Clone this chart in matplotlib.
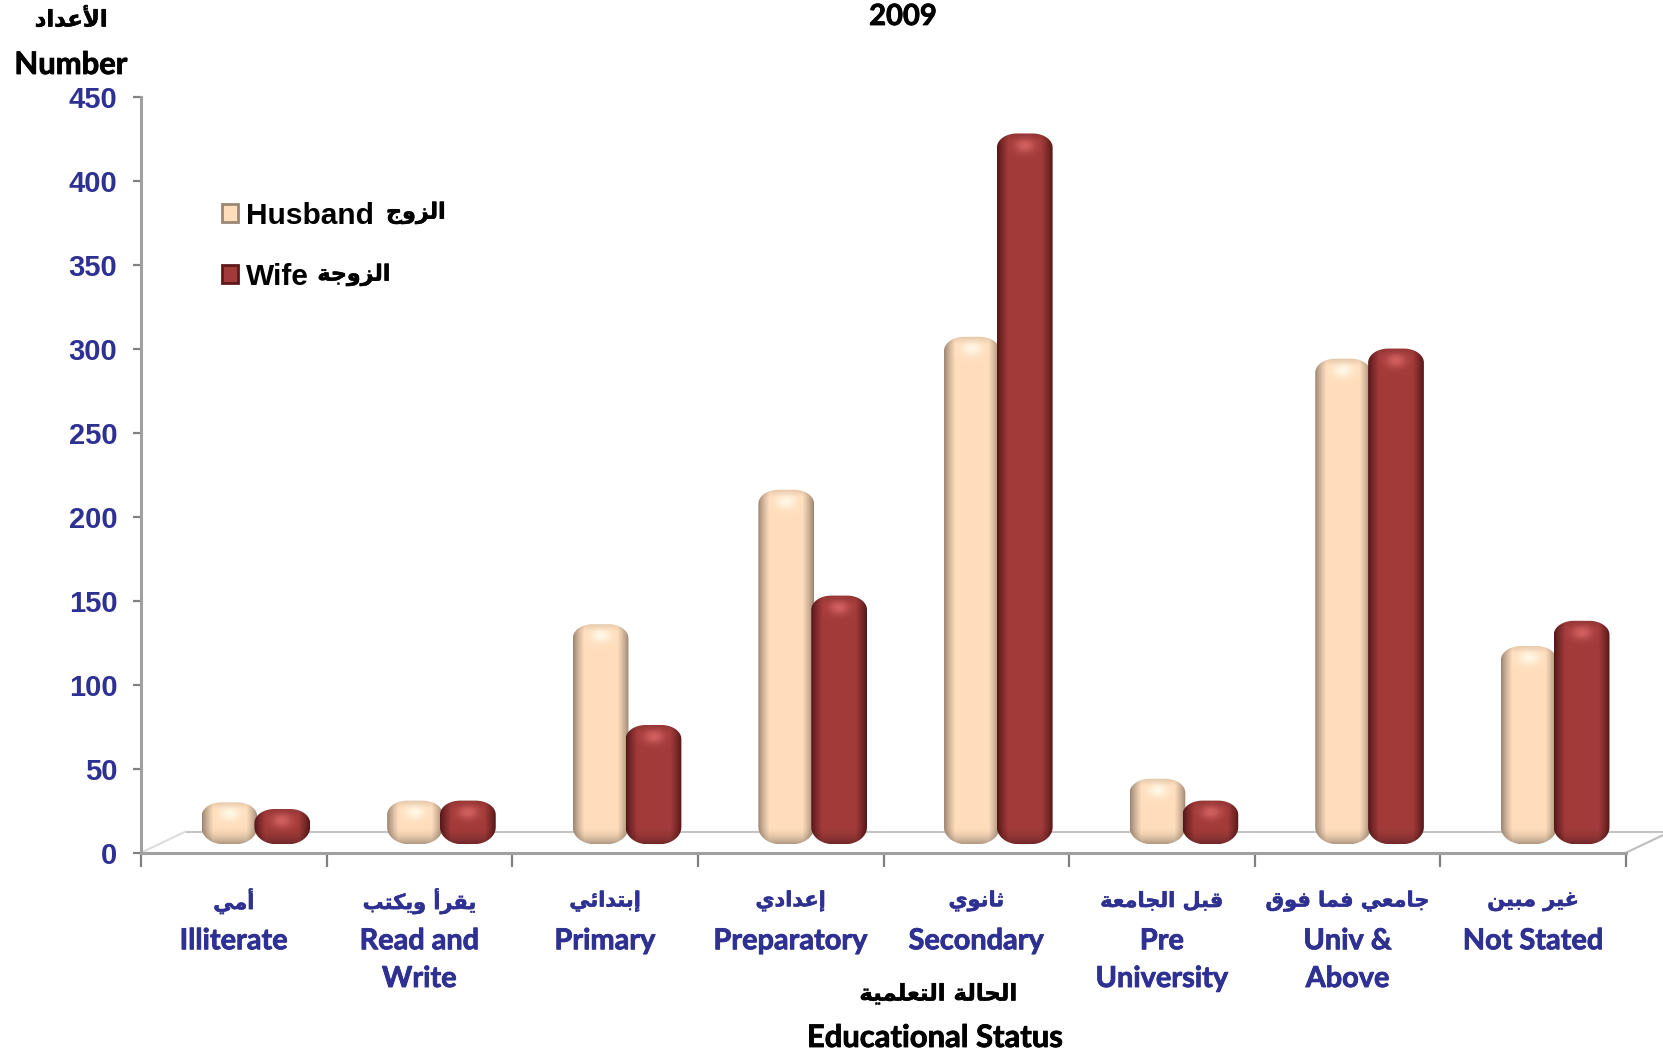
import unicodedata
import numpy as np
import matplotlib
matplotlib.use('Agg')
import matplotlib.pyplot as plt
import matplotlib.patheffects as pe
from matplotlib.font_manager import FontProperties
from matplotlib.patches import Patch, PathPatch
from matplotlib.path import Path

arabic_labels = ["أمي", "يقرأ ويكتب", "إبتدائي", "إعدادي", "ثانوي", "قبل الجامعة", "جامعي فما فوق", "غير مبين"]
english_labels = ["Illiterate", "Read and\nWrite", "Primary", "Preparatory", "Secondary",
                  "Pre\nUniversity", "Univ &\nAbove", "Not Stated"]
husband = [25, 26, 131, 211, 302, 39, 289, 118]
wife = [21, 26, 71, 148, 423, 26, 295, 133]
y_ticks = [0, 50, 100, 150, 200, 250, 300, 350, 400, 450]

W, H = 1663, 1052
BLUE = '#2E3192'
GREY = '#A0A0A0'
RIGHT_ONLY = "اأإآدذرزوة"


def shape(text):
    # matplotlib does no arabic shaping, so pick the presentation forms by hand
    words = []
    for word in text.split(' '):
        out = []
        i = 0
        prev_joins = False
        while i < len(word):
            ch = word[i]
            nxt = word[i + 1] if i + 1 < len(word) else ''
            if ch == 'ل' and nxt in ('ا', 'أ', 'إ', 'آ') and nxt:
                tail = unicodedata.name(nxt).replace('ARABIC LETTER ', '')
                form = 'FINAL' if prev_joins else 'ISOLATED'
                out.append(unicodedata.lookup(f'ARABIC LIGATURE LAM WITH {tail} {form} FORM'))
                prev_joins = False
                i += 2
                continue
            joins_next = ch not in RIGHT_ONLY and nxt != ''
            if prev_joins and joins_next:
                form = 'MEDIAL'
            elif prev_joins:
                form = 'FINAL'
            elif joins_next:
                form = 'INITIAL'
            else:
                form = 'ISOLATED'
            out.append(unicodedata.lookup(f'{unicodedata.name(ch)} {form} FORM'))
            prev_joins = joins_next
            i += 1
        words.append(''.join(reversed(out)))
    return ' '.join(reversed(words))


def heavy(color, lw=0.6):
    # Lato comes out thin here, thicken it with a stroke
    return [pe.withStroke(linewidth=lw, foreground=color)]


fig = plt.figure(figsize=(W / 100, H / 100), dpi=100, facecolor='white')
ax_l, ax_r, ax_t, ax_b = 141, 1626, 96.5, 852.7
ax = fig.add_axes([ax_l / W, 1 - ax_b / H, (ax_r - ax_l) / W, (ax_b - ax_t) / H])
px_x = 8 / (ax_r - ax_l)
px_y = 450 / (ax_b - ax_t)


def draw_bar(left, width, value, base, center, edge, light):
    bottom = base
    top = base + value
    w_px = int(round(width / px_x))
    h_px = max(int(round((top - bottom) / px_y)), 4)
    rx_top = 0.36 * width
    ry_top = min(14 * px_y, (top - bottom) * 0.45)
    rx_bot = 0.40 * width
    ry_bot = min(17 * px_y, (top - bottom) * 0.5)

    # side to side shading of a cylinder
    t = np.linspace(-1, 1, w_px)
    v = np.linspace(0, 1, h_px)
    tt, vv = np.meshgrid(t, v)
    mix = np.clip(np.cos(tt * np.pi / 2) * 1.7, 0, 1)[..., None] ** 0.9
    img = np.array(edge) * (1 - mix) + np.array(center) * mix
    # darker at the bottom cap, highlight under the top cap
    cap = 15 / h_px
    bot_fade = np.clip((vv - (1 - 1.2 * cap)) / (1.2 * cap), 0, 1)[..., None]
    img = img * (1 - 0.30 * bot_fade ** 2)
    hy = (vv - 0.8 * cap) * h_px / 7
    glow = np.exp(-(tt / 0.36) ** 2 - hy ** 2)[..., None]
    img = img * (1 - glow) + np.array(light) * glow
    top_fade = np.clip(1 - vv / (0.5 * cap), 0, 1)[..., None]
    img = img * (1 - 0.10 * top_fade)

    im = ax.imshow(img, extent=[left, left + width, bottom, top], origin='upper',
                   aspect='auto', interpolation='bilinear', zorder=3)
    a = np.linspace(0, np.pi / 2, 16)
    xs = np.concatenate([left + rx_top - rx_top * np.cos(a), left + width - rx_top + rx_top * np.sin(a),
                         left + width - rx_bot + rx_bot * np.cos(a), left + rx_bot - rx_bot * np.sin(a)])
    ys = np.concatenate([top - ry_top + ry_top * np.sin(a), top - ry_top + ry_top * np.cos(a),
                         bottom + ry_bot - ry_bot * np.sin(a), bottom + ry_bot - ry_bot * np.cos(a)])
    clip = PathPatch(Path(np.column_stack([xs, ys]), closed=False), transform=ax.transData)
    im.set_clip_path(clip)


bar_w = 0.30
floor_dx = 0.24
floor_v = 12.6
base = 5

# floor of the 3d box
ax.plot([floor_dx, 8 + floor_dx], [floor_v, floor_v], color='#C4C4C4', lw=1.5, zorder=1, clip_on=False)
ax.plot([0, floor_dx], [0, floor_v], color='#DDDDDD', lw=1.5, zorder=1, clip_on=False)
ax.plot([8, 8 + floor_dx], [0, floor_v], color='#BDBDBD', lw=1.5, zorder=1, clip_on=False)

for i in range(8):
    draw_bar(i + 0.326, bar_w, husband[i], base, (1.0, 0.87, 0.74), (0.62, 0.53, 0.45), (1.0, 0.97, 0.90))
    draw_bar(i + 0.611, bar_w, wife[i], base, (0.64, 0.23, 0.23), (0.33, 0.09, 0.09), (0.82, 0.38, 0.38))

ax.set_xlim(0, 8)
ax.set_ylim(0, 450)
for side in ('top', 'right'):
    ax.spines[side].set_visible(False)
for side in ('left', 'bottom'):
    ax.spines[side].set_color(GREY)
    ax.spines[side].set_linewidth(2.2)

y_font = FontProperties(family='Liberation Sans', weight='bold', size=21)
ax.set_yticks(y_ticks)
ax.set_yticklabels([str(v) for v in y_ticks], color=BLUE, fontproperties=y_font)
ax.tick_params(axis='y', length=6, width=1.6, color='#808080', pad=11)

ax.set_xticks(range(9))
ax.set_xticklabels([])
ax.tick_params(axis='x', which='major', length=10, width=1.6, color='#808080')
ax.set_xticks(np.arange(8) + 0.5, minor=True)
ax.set_xticklabels(english_labels, minor=True, color=BLUE, family='Lato',
                   weight='bold', fontsize=20.8, linespacing=1.56, va='top',
                   path_effects=heavy(BLUE))
ax.tick_params(axis='x', which='minor', length=0, pad=54.4)
for i, lab in enumerate(arabic_labels):
    ax.annotate(shape(lab), xy=(i + 0.5, 0), xycoords=('data', 'axes fraction'),
                xytext=(0, -34.8), textcoords='offset points', ha='center', va='center',
                color=BLUE, family='DejaVu Sans', weight='bold', fontsize=15,
                path_effects=heavy(BLUE, 0.4))

legend_font = FontProperties(family='Liberation Sans', weight='bold', size=21.5)
handles = [Patch(facecolor='#FFDDBB', edgecolor='#9C8774', lw=2),
           Patch(facecolor='#A33A3A', edgecolor='#5E1A1A', lw=2)]
ax.legend(handles, ['Husband', 'Wife'],
          loc='upper left', bbox_to_anchor=(0.0543, 0.861), frameon=False, prop=legend_font,
          handlelength=0.55, handleheight=0.55, handletextpad=0.28, labelspacing=1.12,
          borderpad=0, borderaxespad=0)


def label(x, y, text, size=22.3, color='black'):
    fig.text(x / W, 1 - y / H, text, ha='center', va='center', color=color,
             family='Lato', weight='bold', fontsize=size, path_effects=heavy(color))


def label_ar(x, y, text, size=16.4):
    fig.text(x / W, 1 - y / H, shape(text), ha='center', va='center', color='black',
             family='DejaVu Sans', weight='bold', fontsize=size, path_effects=heavy('black', 0.4))


label(903, 17, '2009', size=21)
label_ar(71, 20, "الأعداد")
label(71, 65, 'Number')
label_ar(938, 994, "الحالة التعلمية")
label(935, 1038, 'Educational Status')
label_ar(416, 213, "الزوج", size=16)
label_ar(354, 275, "الزوجة", size=16)

fig.savefig('out.png', dpi=100)
